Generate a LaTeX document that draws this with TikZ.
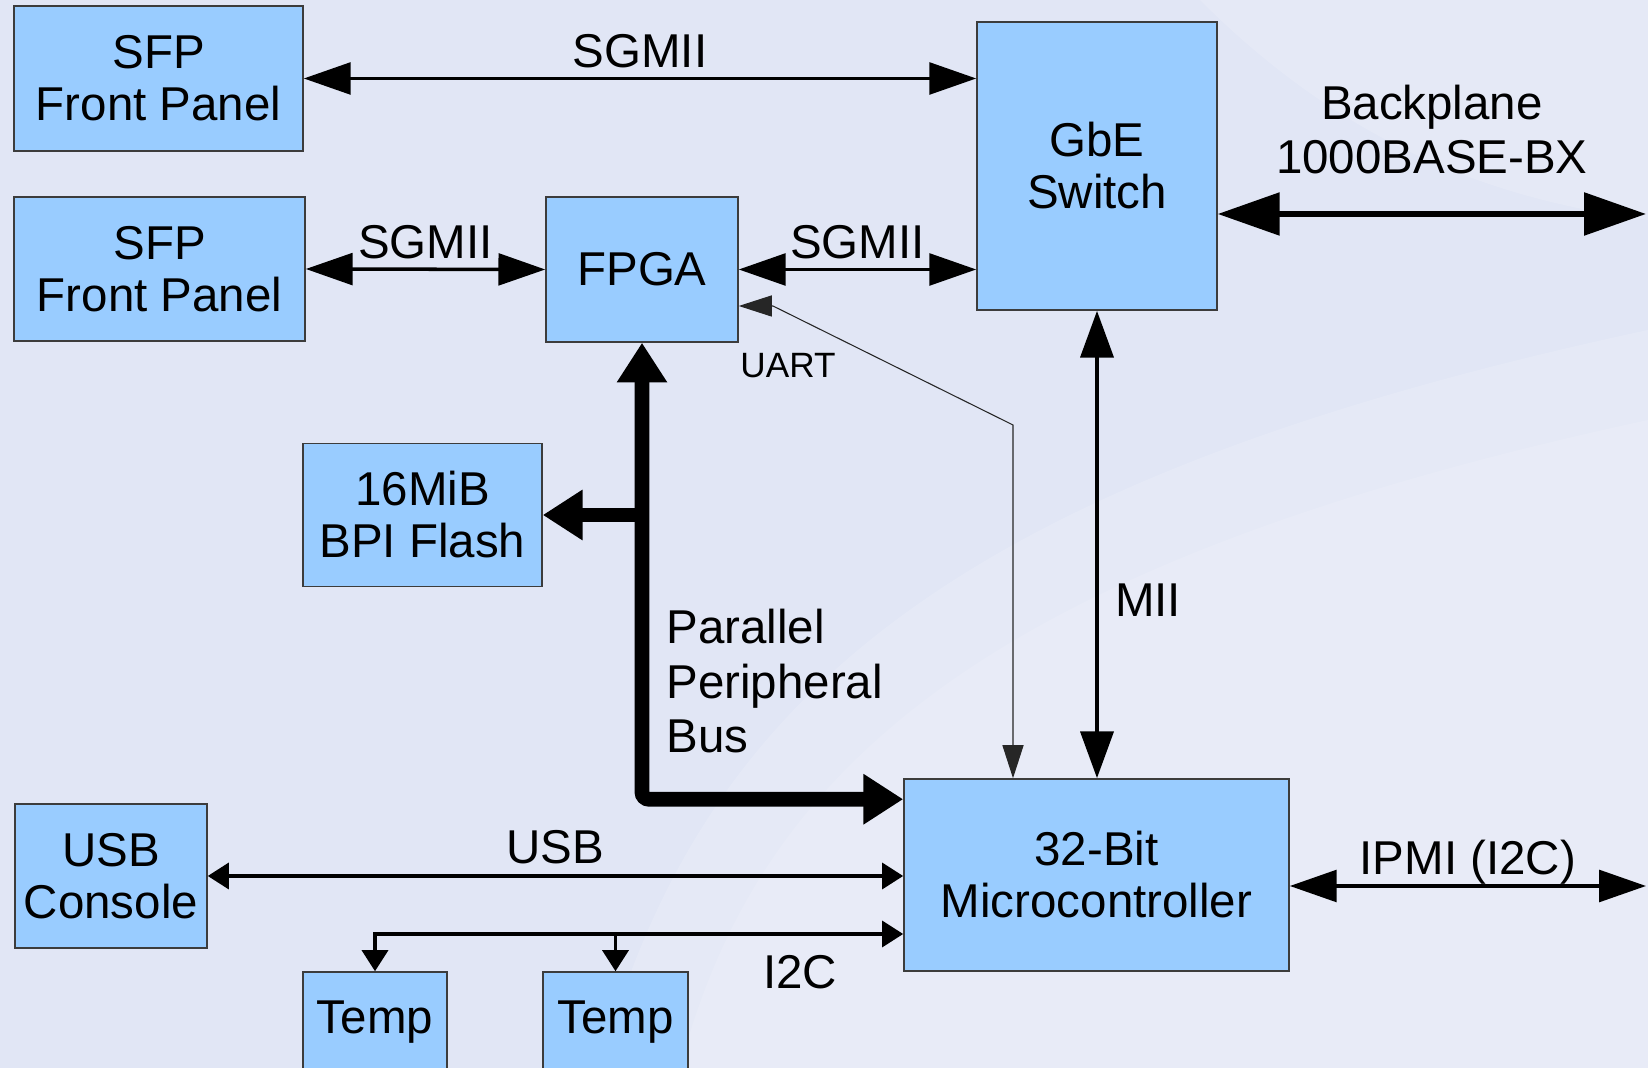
\documentclass[tikz,border=0pt]{standalone}
\usepackage{fontspec}
\setmainfont{Liberation Sans}
\usepackage{xcolor}
\usetikzlibrary{arrows.meta,positioning,calc}

\definecolor{boxblue}{RGB}{153,204,255}
\definecolor{boxline}{RGB}{60,60,60}
\definecolor{bgblue}{RGB}{225,230,245}

\tikzset{
  blk/.style={draw=boxline, line width=0.4pt, fill=boxblue, align=center, inner sep=0pt,
    font=\fontsize{13.5}{14.8}\selectfont},
  lbl/.style={inner sep=2.5pt, font=\fontsize{13.5}{15.5}\selectfont},
  sglink/.style={line width=1pt, <->, >={Triangle[length=13.3pt,width=9pt]}},
  miilink/.style={line width=1.3pt, <->, >={Triangle[length=13.3pt,width=9.3pt]}},
  bplink/.style={line width=1.7pt, <->, >={Triangle[length=17.6pt,width=11.9pt]}},
  buslink/.style={line width=4.2pt, >={Triangle[length=11.3pt,width=13.6pt]}},
  smlink/.style={line width=1pt, <->, >={Triangle[length=6pt,width=7.4pt]}},
  uartlink/.style={line width=0.3pt, black!85, <->, >={Triangle[length=9.4pt,width=6pt]}}
}

\begin{document}
\begin{tikzpicture}[x=0.01cm, y=-0.01cm]
% background
\fill[bgblue] (0,0) rectangle (1648,1068);
\fill[white, opacity=0.15] (600,1068) .. controls (700,700) and (950,480) .. (1648,330) -- (1648,1068) -- cycle;
\fill[white, opacity=0.12] (680,1068) .. controls (760,760) and (1000,560) .. (1648,420) -- (1648,1068) -- cycle;
\fill[white, opacity=0.15] (1200,0) .. controls (1350,150) and (1500,200) .. (1648,220) -- (1648,0) -- cycle;
\useasboundingbox (0,0) rectangle (1648,1068);

% blocks
\node[blk, minimum width=2.89cm, minimum height=1.45cm] (sfpA) at (158.5,78.5) {SFP\\Front Panel};
\node[blk, minimum width=2.91cm, minimum height=1.44cm] (sfpB) at (159.5,269) {SFP\\Front Panel};
\node[blk, minimum width=1.92cm, minimum height=1.45cm] (fpga) at (642,269.5) {FPGA};
\node[blk, minimum width=2.40cm, minimum height=2.88cm] (gbe) at (1097,166) {GbE\\Switch};
\node[blk, minimum width=2.39cm, minimum height=1.43cm] (flash) at (422.5,515) {16MiB\\BPI Flash};
\node[blk, minimum width=1.92cm, minimum height=1.44cm] (usb) at (111,876) {USB\\Console};
\node[blk, minimum width=3.85cm, minimum height=1.92cm] (mcu) at (1096.5,875) {32-Bit\\Microcontroller};
\node[blk, minimum width=1.44cm, minimum height=1.00cm] (tempA) at (375,1022) {Temp};
\node[blk, minimum width=1.45cm, minimum height=1.00cm] (tempB) at (615.5,1022) {Temp};

% ethernet links
\draw[sglink] (sfpA.east) -- node[lbl, above]{SGMII} (gbe.west |- sfpA.east);
\draw[sglink] (sfpB.east) -- node[lbl, above]{SGMII} (fpga.west);
\draw[sglink] (fpga.east) -- node[lbl, above]{SGMII} (gbe.west |- fpga.east);
\coordinate (bpend) at (1646,214);
\draw[bplink] (gbe.east |- bpend) -- node[lbl, above=8pt, align=center]{Backplane\\1000BASE-BX} (bpend);
\draw[miilink] (gbe.south) -- node[lbl, right, inner sep=4.5pt, pos=0.62]{MII} (gbe.south |- mcu.north);

% uart
\coordinate (uartA) at (773,306);
\coordinate (uartB) at (1013,425);
\draw[uartlink] (fpga.east |- uartA) -- (uartA) -- (uartB) -- (uartB |- mcu.north);
\node[inner sep=0pt, font=\fontsize{10}{12}\selectfont] (uartlbl) at (788,366) {UART};

% parallel bus
\coordinate (busin) at ($(mcu.north west)+(0,21)$);
\draw[buslink, <->, rounded corners=2pt] (fpga.south) |- (busin);
\draw[buslink, ->] (fpga.south |- flash.east) -- (flash.east);
\node[lbl, align=left, anchor=north west] (buslbl) at (657,600) {Parallel\\Peripheral\\Bus};

% usb, i2c, ipmi
\draw[smlink] (usb.east) -- node[lbl, above, inner sep=3pt]{USB} (mcu.west |- usb.east);
\coordinate (i2cin) at ($(mcu.west)+(0,59)$);
\draw[smlink] (tempA.north) |- (i2cin);
\draw[smlink, ->] (tempB.north |- i2cin) -- (tempB.north);
\node[lbl] (i2clbl) at (800,972) {I2C};
\coordinate (ipmiend) at (1646,886);
\draw[sglink] (mcu.east |- ipmiend) -- node[lbl, above, inner sep=0pt]{IPMI (I2C)} (ipmiend);
\end{tikzpicture}
\end{document}
